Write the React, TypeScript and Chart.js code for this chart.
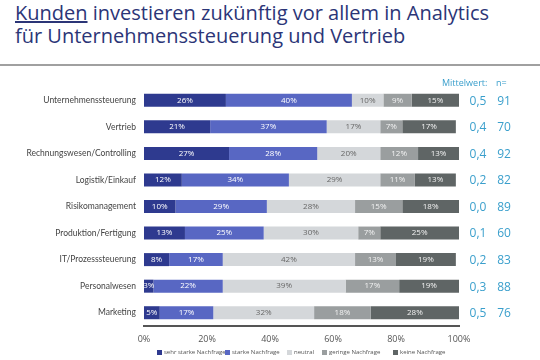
import React, { useEffect, useRef } from "react";
import { Chart, registerables } from "chart.js";

Chart.register(...registerables);

const categories = [
  "Unternehmenssteuerung",
  "Vertrieb",
  "Rechnungswesen/Controlling",
  "Logistik/Einkauf",
  "Risikomanagement",
  "Produktion/Fertigung",
  "IT/Prozesssteuerung",
  "Personalwesen",
  "Marketing",
];
const sehrStark = [26, 21, 27, 12, 10, 13, 8, 3, 5];
const stark = [40, 37, 28, 34, 29, 25, 17, 22, 17];
const neutral = [10, 17, 20, 29, 28, 30, 42, 39, 32];
const gering = [9, 7, 12, 11, 15, 7, 13, 17, 18];
const keine = [15, 17, 13, 13, 18, 25, 19, 19, 28];
const mittelwert = ["0,5", "0,4", "0,4", "0,2", "0,0", "0,1", "0,2", "0,3", "0,5"];
const nValues = ["91", "70", "92", "82", "89", "60", "83", "88", "76"];
const seriesNames = ["sehr starke Nachfrage", "starke Nachfrage", "neutral", "geringe Nachfrage", "keine Nachfrage"];
const xTicks = [0, 20, 40, 60, 80, 100];

const colors = ["#2e3a8f", "#5867c3", "#d4d7da", "#9a9e9f", "#5f6565"];
const labelColors = ["#ffffff", "#ffffff", "#666666", "#f2f2f2", "#f2f2f2"];
const legendX = [157, 225, 287, 322, 393];
const FONT = "'Open Sans', 'Noto Sans', sans-serif";

export default function App() {
  const ref = useRef<HTMLCanvasElement | null>(null);
  useEffect(() => {
    if (!ref.current) return;
    const valuePlugin = {
      id: "valuePlugin",
      afterDatasetsDraw(chart: any) {
        const ctx = chart.ctx;
        ctx.save();
        ctx.textAlign = "center";
        ctx.textBaseline = "middle";
        ctx.font = `8px ${FONT}`;
        chart.data.datasets.forEach((ds: any, di: number) => {
          const meta = chart.getDatasetMeta(di);
          meta.data.forEach((bar: any, i: number) => {
            const x = (bar.x + bar.base) / 2;
            ctx.fillStyle = labelColors[di];
            ctx.fillText(ds.data[i] + "%", x, bar.y);
          });
        });
        const yScale = chart.scales.y;
        ctx.fillStyle = "#3a9fcc";
        ctx.font = `12px ${FONT}`;
        categories.forEach((_, i) => {
          const y = yScale.getPixelForValue(i);
          ctx.fillText(mittelwert[i], 478, y + 1);
          ctx.fillText(nValues[i], 504, y + 1);
        });
        ctx.font = `9px ${FONT}`;
        ctx.textAlign = "left";
        ctx.fillText("Mittelwert:", 442, 83);
        ctx.fillText("n=", 496, 83);
        ctx.restore();
      },
    };
    const chart = new Chart(ref.current, {
      type: "bar",
      data: {
        labels: categories,
        datasets: [sehrStark, stark, neutral, gering, keine].map((d, i) => ({
          label: seriesNames[i],
          data: d,
          backgroundColor: colors[i],
          borderWidth: 0,
          barPercentage: 0.49,
          categoryPercentage: 1,
        })),
      },
      options: {
        indexAxis: "y",
        responsive: false,
        animation: false,
        devicePixelRatio: 1,
        layout: { padding: { top: 87, right: 81, bottom: 0, left: 0 } },
        plugins: { legend: { display: false }, tooltip: { enabled: false } },
        scales: {
          x: {
            stacked: true,
            min: 0,
            max: 100,
            afterFit: (s: any) => {
              s.height = 34;
            },
            afterBuildTicks: (s: any) => {
              s.ticks = xTicks.map((v) => ({ value: v }));
            },
            grid: { display: false, drawTicks: false },
            border: { display: true, color: "#555555", width: 2 },
            ticks: {
              padding: 8,
              color: "#555555",
              font: { family: FONT, size: 9 },
              callback: (v: any) => v + "%",
            },
          },
          y: {
            stacked: true,
            afterFit: (s: any) => {
              s.width = 144;
            },
            grid: { display: false, drawTicks: false },
            border: { display: false },
            ticks: {
              padding: 8,
              color: "#444444",
              font: { family: "Lato, 'Open Sans', sans-serif", size: 8.5 },
            },
          },
        },
      },
      plugins: [valuePlugin],
    });
    return () => chart.destroy();
  }, []);

  return (
    <div style={{ position: "fixed", left: 0, top: 0, width: 540, height: 360, background: "#fff", overflow: "hidden", fontFamily: FONT }}>
      <div style={{ position: "absolute", left: 15, top: 1, color: "#2b3577", fontSize: 20, lineHeight: "23px", whiteSpace: "nowrap" }}>
        <div><span style={{ textDecoration: "underline" }}>Kunden</span> investieren zukünftig vor allem in Analytics</div>
        <div>für Unternehmenssteuerung und Vertrieb</div>
      </div>
      <div style={{ position: "absolute", left: 0, top: 64, width: 540, height: 2, background: "#a0a0a0" }} />
      <canvas ref={ref} width={540} height={360} style={{ position: "absolute", left: 0, top: 0 }} />
      {seriesNames.map((n, i) => (
        <span
          key={n}
          style={{ position: "absolute", left: legendX[i], top: 348, display: "flex", alignItems: "center", fontSize: 6, lineHeight: "9px", color: "#555", whiteSpace: "nowrap" }}
        >
          <span style={{ display: "inline-block", width: 5, height: 5, background: colors[i], marginRight: 2 }} />
          {n}
        </span>
      ))}
    </div>
  );
}
